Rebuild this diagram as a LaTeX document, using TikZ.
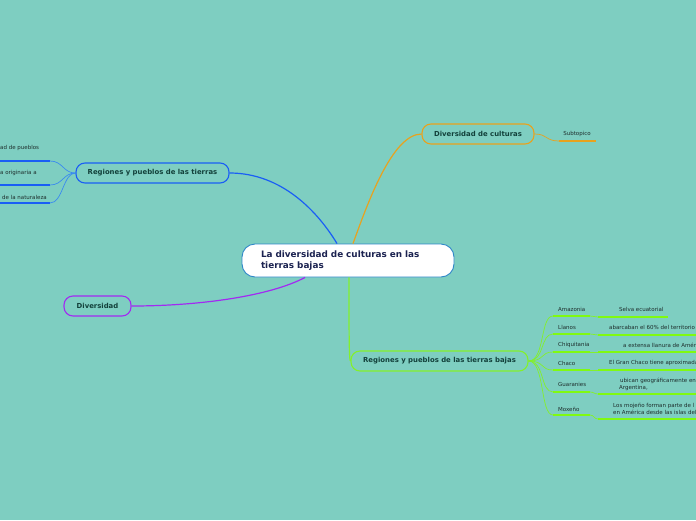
\documentclass[tikz,border=0pt]{standalone}
\usepackage{fontspec}
\setmainfont{DejaVu Sans}
\definecolor{bg}{HTML}{7ECEC1}
\definecolor{cblue}{HTML}{1A5EF5}
\definecolor{cblueL}{HTML}{3A8AF0}
\definecolor{corange}{HTML}{E8A21E}
\definecolor{cpurple}{HTML}{A22AF2}
\definecolor{cgreen}{HTML}{84F02C}
\definecolor{cgreenU}{HTML}{80FA10}
\definecolor{ctext}{HTML}{12403A}
\definecolor{cnavy}{HTML}{1B2250}
\definecolor{csmall}{HTML}{1E2E2C}
\definecolor{cborder}{HTML}{2E86C8}
\tikzset{
  mainbox/.style={draw=cborder, line width=0.9pt, fill=white, rounded corners=13pt,
    minimum width=212pt, minimum height=33pt, text width=174pt, inner xsep=19pt, inner ysep=0pt,
    align=left, font=\fontsize{8.85}{11}\selectfont\bfseries, text=cnavy},
  branch/.style={rounded corners=9pt, minimum height=20pt, line width=1.1pt,
    font=\fontsize{6.9}{8}\selectfont\bfseries, text=ctext, inner sep=0pt},
  leaf/.style={font=\fontsize{5.5}{7}\selectfont, text=csmall, inner sep=0pt, anchor=west, align=left},
  mainlink/.style={line width=1.2pt},
  sublink/.style={line width=0.7pt},
  uline/.style={line width=1.6pt}
}
\begin{document}
\begin{tikzpicture}[x=1pt,y=-1pt]
\useasboundingbox (0,0) rectangle (696,520);
\fill[bg] (0,0) rectangle (696,520);

% main and branch nodes
\node[mainbox] (c) at (348,260.5) {La diversidad de culturas en las\\tierras bajas};
\node[branch, draw=cblue, minimum width=153pt] (rp) at (152.5,173) {Regiones y pueblos de las tierras};
\node[branch, draw=corange, minimum width=112pt] (dc) at (478,134) {Diversidad de culturas};
\node[branch, draw=cpurple, minimum width=67pt] (dv) at (97.5,306) {Diversidad};
\node[branch, draw=cgreen, minimum width=177pt] (rb) at (439.5,361) {Regiones y pueblos de las tierras bajas};

% main connectors
\draw[cblue, mainlink] ([xshift=-11pt]c.north) .. controls (318,212) and (282,173) .. (rp.east);
\draw[corange, mainlink] ([xshift=5pt]c.north) .. controls (367,205) and (392,134) .. (dc.west);
\draw[cpurple, mainlink] ([xshift=-43pt]c.south) .. controls (270,296) and (200,306) .. (dv.east);
\draw[cgreen, mainlink] ([xshift=1pt]c.south) .. controls (349,330) and (349,361) .. (rb.west);

% left blue leaves
\coordinate (l1a) at (0,161); \coordinate (l1b) at (50,161);
\coordinate (l2a) at (0,185); \coordinate (l2b) at (50,185);
\coordinate (l3a) at (0,203); \coordinate (l3b) at (50,203);
\node[leaf] (l1) at (0,148) {ad de pueblos};
\node[leaf] (l2) at (0,173) {a originaria a};
\node[leaf] (l3) at (2,197) {de la naturaleza};
\draw[cblue, uline] (l1a) -- (l1b);
\draw[cblue, uline] (l2a) -- (l2b);
\draw[cblue, uline] (l3a) -- (l3b);
\draw[cblueL, sublink] (l1b) .. controls (63,161) and (63,173) .. (rp.west);
\draw[cblueL, sublink] (l2b) .. controls (63,185) and (63,173) .. (rp.west);
\draw[cblueL, sublink] (l3b) .. controls (63,203) and (63,173) .. (rp.west);

% orange subtopic
\coordinate (s1a) at (559,141); \coordinate (s1b) at (596,141);
\node[leaf, anchor=center] (s1) at (577,134) {Subtopico};
\draw[corange, sublink] (dc.east) .. controls (548,134) and (545,141) .. (s1a);
\draw[corange, uline] (s1a) -- (s1b);

% green leaves: left level
\foreach \n/\y in {g1/316, g2/334, g3/352, g4/370, g5/392, g6/415}{
  \coordinate (\n a) at (553,\y);
  \coordinate (\n b) at (590,\y);
  \draw[cgreen, sublink] (rb.east) .. controls (545,361) and (540,\y) .. (\n a);
  \draw[cgreenU, uline] (\n a) -- (\n b);
}
\node[leaf] (t1) at (558,309) {Amazonia};
\node[leaf] (t2) at (558,327) {Llanos};
\node[leaf] (t3) at (558,345) {Chiquitania};
\node[leaf] (t4) at (558,363) {Chaco};
\node[leaf] (t5) at (558,384) {Guaranies};
\node[leaf] (t6) at (558,409) {Moxeño};

% green leaves: right level
\foreach \n/\y/\e in {h1/317/668, h2/335/696, h3/352/696, h4/370/696, h5/394/696, h6/419/696}{
  \coordinate (\n a) at (598,\y);
  \coordinate (\n b) at (\e,\y);
  \draw[cgreenU, uline] (\n a) -- (\n b);
}
\draw[cgreen, sublink] (g1b) .. controls (594,316) and (594,317) .. (h1a);
\draw[cgreen, sublink] (g2b) .. controls (594,334) and (594,335) .. (h2a);
\draw[cgreen, sublink] (g3b) -- (h3a);
\draw[cgreen, sublink] (g4b) -- (h4a);
\draw[cgreen, sublink] (g5b) .. controls (594,392) and (594,394) .. (h5a);
\draw[cgreen, sublink] (g6b) .. controls (594,415) and (594,419) .. (h6a);
\node[leaf] (u1) at (619,309) {Selva ecuatorial};
\node[leaf] (u2) at (609,327) {abarcaban el 60\% del territorio};
\node[leaf] (u3) at (623,345) {a extensa llanura de Améric};
\node[leaf] (u4) at (609,363) {El Gran Chaco tiene aproximada};
\node[leaf] (u5) at (619,384.5) {\hspace*{1pt}ubican geográficamente en\\Argentina,};
\node[leaf] (u6) at (613,409) {Los mojeño forman parte de l\\en América desde las islas del};
\end{tikzpicture}
\end{document}
